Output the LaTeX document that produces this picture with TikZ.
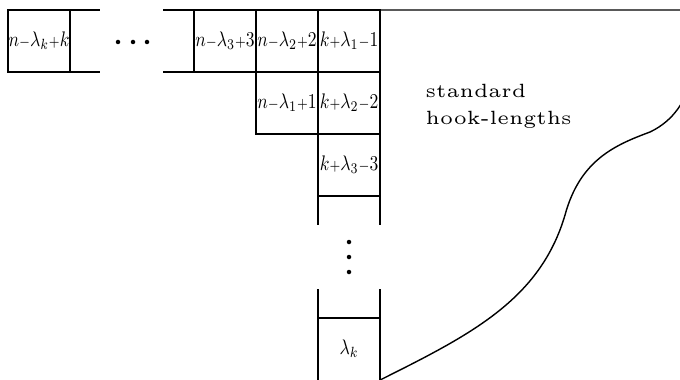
\documentclass[tikz,border=0pt]{standalone}
\usetikzlibrary{positioning}
\newcommand{\hookval}[1]{\scalebox{0.5}[0.6]{$#1$}}
\newcommand{\hookplus}{{\scriptstyle+}}
\newcommand{\hookminus}{{\scriptstyle-}}
\tikzset{
    cell/.style={rectangle, draw, thin, minimum width=0.62cm, minimum height=0.62cm, inner sep=0pt, outer sep=0pt},
    hooktext/.style={align=left, font=\fontsize{5.45}{7.9}\selectfont, inner sep=0pt},
    dotmark/.style={circle, fill, inner sep=0pt, minimum size=0.045cm},
    rim/.style={thin},
}
\begin{document}
\begin{tikzpicture}[x=0.01cm, y=-0.01cm]
    \useasboundingbox (0,0) rectangle (680,379);
    % first row
    \node[cell] (nk) at (39,41) {\hookval{n\hookminus\lambda_k\hookplus k}};
    \node[cell] (n3) at (225,41) {\hookval{n\hookminus\lambda_3\hookplus 3}};
    \node[cell, right=0pt of n3] (n2) {\hookval{n\hookminus\lambda_2\hookplus 2}};
    \node[cell, right=0pt of n2] (k1) {\hookval{k\hookplus\lambda_1\hookminus 1}};
    % second and third rows
    \node[cell, below=0pt of n2] (n1) {\hookval{n\hookminus\lambda_1\hookplus 1}};
    \node[cell, below=0pt of k1] (k2) {\hookval{k\hookplus\lambda_2\hookminus 2}};
    \node[cell, below=0pt of k2] (k3) {\hookval{k\hookplus\lambda_3\hookminus 3}};
    % last box of the column
    \node[cell, draw=none] (lk) at (349,349) {\hookval{\lambda_k}};
    \coordinate (rimtop) at (680,10);
    \coordinate (rimend) at (692,80);

    % open ends of the hook
    \draw[rim] (nk.north east) -- ++(30,0);
    \draw[rim] (nk.south east) -- ++(30,0);
    \draw[rim] (n3.north west) -- ++(-31,0);
    \draw[rim] (n3.south west) -- ++(-31,0);
    \draw[rim] (k1.north east) -- (rimtop);
    \draw[rim] (k3.south west) -- ++(0,29);
    \draw[rim] (k3.south east) -- ++(0,29);
    \draw[rim] (lk.north west) -- (lk.north east);
    \draw[rim] (lk.south west) -- ++(0,-91);
    \draw[rim] (lk.south east) -- ++(0,-91);

    % dots
    \foreach \x [count=\i] in {118,133,147}
        \node[dotmark] (hdot\i) at (\x,42) {};
    \foreach \y [count=\i] in {242,257,272}
        \node[dotmark] (vdot\i) at (349,\y) {};

    % outer boundary of the diagram
    \draw[rim] (lk.south east) .. controls (470,335) and (540,300) .. (565,215)
        .. controls (580,160) and (615,145) .. (650,132)
        .. controls (675,120) and (685,100) .. (rimend);

    \node[hooktext, anchor=north west] (hook) at (425,83) {standard\\hook-lengths};
\end{tikzpicture}
\end{document}
